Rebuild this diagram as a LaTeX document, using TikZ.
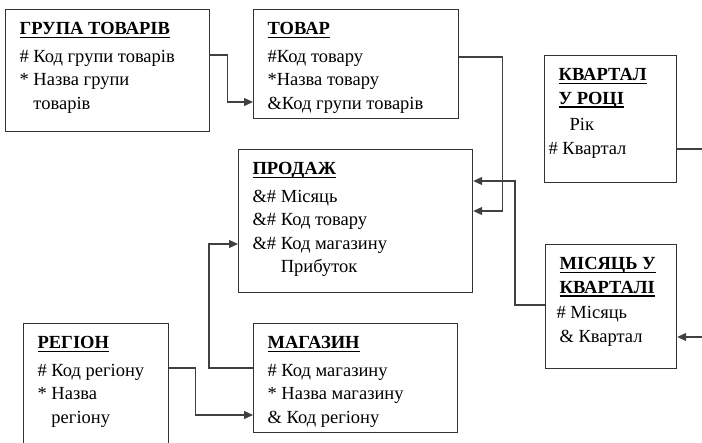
\documentclass[tikz,border=0pt]{standalone}
\usepackage{fontspec}
\setmainfont{LiberationSerif}[Extension=.ttf, UprightFont=*-Regular, BoldFont=*-Bold]
\usetikzlibrary{arrows.meta}

\newsavebox{\hdbox}
\newcommand{\entbox}[3]{\parbox[c][#2][t]{#1}{\raggedright\rule{0pt}{25pt}#3}}
\newcommand{\hd}[1]{\leavevmode\sbox{\hdbox}{\textbf{#1}}\rlap{\rule[-3.8pt]{\wd\hdbox}{1.6pt}}\usebox{\hdbox}}

\begin{document}
\begin{tikzpicture}[x=1pt, y=-1pt,
    entity/.style={draw=black!80, line width=1.2pt, anchor=north west, inner xsep=14pt, inner ysep=0pt, font=\rmfamily\fontsize{18.5}{23.5}\selectfont},
    link/.style={draw=black!75, line width=1.2pt, -{Triangle[length=9pt, width=8pt]}}
    ]
\useasboundingbox (0,0) rectangle (702,443);
\clip (0,0) rectangle (702,443);

\node[entity] (grupa) at (5,9) {\entbox{176pt}{122pt}{\hd{ГРУПА ТОВАРІВ}\\[4pt]
    \# Код групи товарів\\{}* Назва групи\\ \phantom{* }товарів}};
\node[entity] (tovar) at (253,9) {\entbox{177pt}{109pt}{\hd{ТОВАР}\\[4pt]
    \#Код товару\\{}*Назва товару\\ \&Код групи товарів}};
\node[entity] (kvartal) at (544,55) {\entbox{104pt}{127pt}{\hd{КВАРТАЛ}\\ \hd{У РОЦІ}\\[3pt]
    \hspace*{11pt}Рік\\ \hspace*{-10pt}\# Квартал}};
\node[entity] (prodazh) at (238,149) {\entbox{206pt}{143pt}{\hd{ПРОДАЖ}\\[4pt]
    \&\# Місяць\\ \&\# Код товару\\ \&\# Код магазину\\ \phantom{\&\# }Прибуток}};
\node[entity] (misyats) at (545,244) {\entbox{103pt}{124pt}{\hd{МІСЯЦЬ У}\\ \hd{КВАРТАЛІ}\\[2pt]
    \hspace*{-3pt}\# Місяць\\ \& Квартал}};
\node[entity] (region) at (23,323) {\entbox{117pt}{140pt}{\hd{РЕГІОН}\\[4pt]
    \# Код регіону\\{}* Назва\\ \phantom{* }регіону}};
\node[entity] (magazin) at (253,323) {\entbox{176pt}{109pt}{\hd{МАГАЗИН}\\[4pt]
    \# Код магазину\\{}* Назва магазину\\ \& Код регіону}};

\draw[link] ([yshift=-46pt]grupa.north east) -- ++(17,0) |- ([yshift=-93pt]tovar.north west);
\draw[link] ([yshift=-48pt]tovar.north east) -- ++(43,0) |- ([yshift=-62pt]prodazh.north east);
\draw[link] ([yshift=-61pt]misyats.north west) -- ++(-30,0) |- ([yshift=-32pt]prodazh.north east);
\draw[link] ([yshift=-94pt]kvartal.north east) -- ++(32,0) |- ([yshift=-93pt]misyats.north east);
\draw[link] ([yshift=-45pt]magazin.north west) -- ++(-44,0) |- ([yshift=-95pt]prodazh.north west);
\draw[link] ([yshift=-45pt]region.north east) -- ++(26,0) |- ([yshift=-92pt]magazin.north west);

\end{tikzpicture}
\end{document}
